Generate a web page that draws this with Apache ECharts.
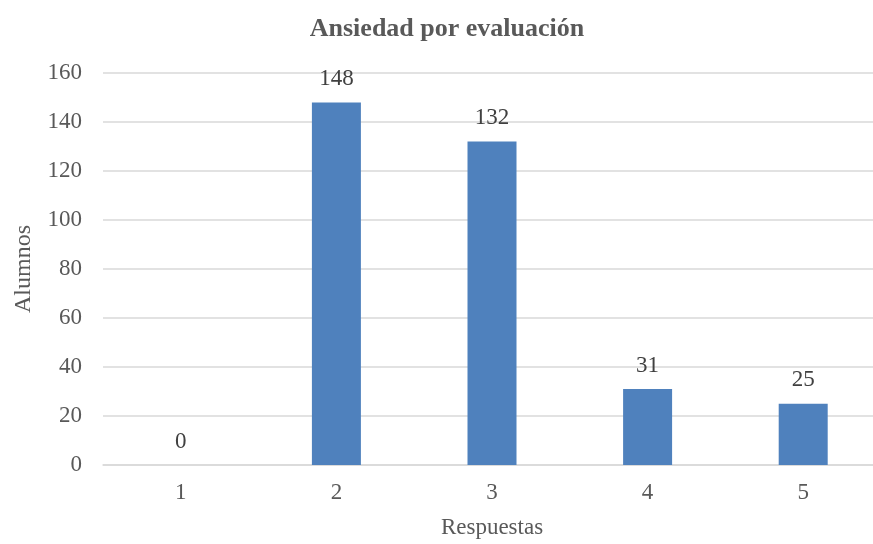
<!DOCTYPE html>
<html><head><meta charset="utf-8">
<script src="https://cdn.jsdelivr.net/npm/echarts@6/dist/echarts.min.js"></script>
<style>html,body{margin:0;padding:0;background:#fff;overflow:hidden}#c{width:881px;height:544px}</style>
</head><body><div id="c"></div>
<script>
const categories = ['1','2','3','4','5'];
const values = [0, 148, 132, 31, 25];
const yTicks = [0, 20, 40, 60, 80, 100, 120, 140, 160];
const titleText = 'Ansiedad por evaluación';
const xName = 'Respuestas';
const yName = 'Alumnos';

const F = '"Liberation Serif", "Times New Roman", serif';
const chart = echarts.init(document.getElementById('c'), null, {renderer: 'canvas'});
chart.setOption({
  animation: false,
  backgroundColor: '#fff',
  title: {
    text: titleText, left: 442, top: 11, textAlign: 'center',
    textStyle: {fontFamily: F, fontSize: 26, fontWeight: 'bold', color: '#595959'}
  },
  grid: {left: 103, right: 0, top: 73, bottom: 78, containLabel: false},
  xAxis: {
    type: 'category', data: categories,
    name: xName, nameLocation: 'middle', nameGap: 51,
    nameTextStyle: {fontFamily: F, fontSize: 23, color: '#595959', verticalAlign: 'top'},
    axisLine: {show: true, lineStyle: {color: '#d9d9d9', width: 1.5}},
    axisTick: {show: false},
    axisLabel: {fontFamily: F, fontSize: 23, color: '#595959', margin: 16}
  },
  yAxis: {
    type: 'value', min: yTicks[0], max: yTicks[yTicks.length - 1], interval: 20,
    name: yName, nameLocation: 'middle', nameGap: 67, nameRotate: 90,
    nameTextStyle: {fontFamily: F, fontSize: 24, color: '#595959'},
    axisLine: {show: false}, axisTick: {show: false},
    axisLabel: {fontFamily: F, fontSize: 23, color: '#595959', margin: 21},
    splitLine: {lineStyle: {color: '#d9d9d9', width: 1.5}}
  },
  series: [{
    type: 'bar', data: values, barWidth: 49,
    itemStyle: {color: '#4f81bd'},
    label: {show: true, position: 'top', distance: 12,
      fontFamily: F, fontSize: 23, color: '#404040'}
  }]
});
</script></body></html>
